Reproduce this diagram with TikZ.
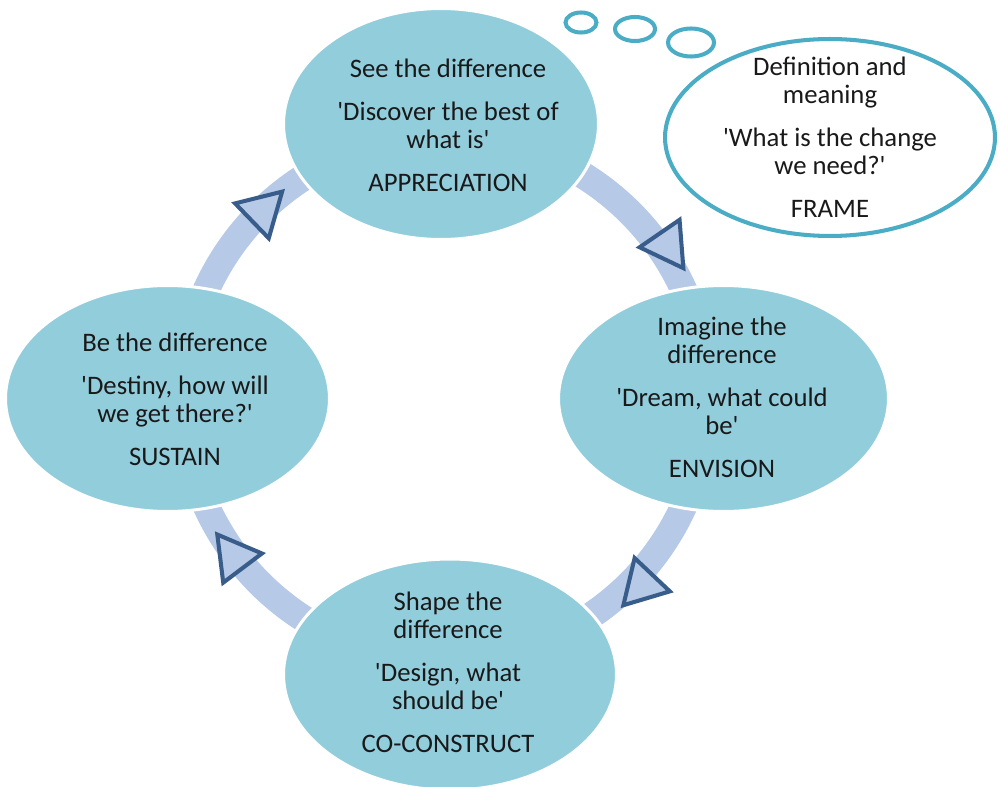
\documentclass[tikz,border=0pt]{standalone}
\usepackage{fontspec}
\setmainfont{Carlito}
\usepackage{tikz}
\usetikzlibrary{shapes.geometric, positioning, calc}
\usepackage{xcolor}
\definecolor{phaseaqua}{RGB}{146,205,220}
\definecolor{bubbleaqua}{RGB}{75,172,198}
\definecolor{cyclelilac}{RGB}{182,201,231}
\definecolor{arrownavy}{RGB}{56,93,138}
\definecolor{inkgrey}{RGB}{25,25,25}
\newcommand{\sq}{\textquotesingle}

\begin{document}
\begin{tikzpicture}[x=0.02cm, y=0.02cm,
  phase/.style={ellipse, fill=phaseaqua, draw=white, line width=1.7pt, inner sep=0pt},
  thought/.style={ellipse, fill=white, draw=bubbleaqua, line width=2.3pt, inner sep=0pt},
  phasetext/.style={align=center, inner sep=0pt, text=inkgrey, font=\fontsize{15.2}{15.9}\selectfont},
  tri/.style={regular polygon, regular polygon sides=3, minimum size=1.12cm, inner sep=0pt,
    fill=cyclelilac, draw=arrownavy, line width=2.3pt}]
\useasboundingbox (0,0) rectangle (1000,-787);

% Cycle band behind the phases
\coordinate (hub) at (445,-398);
\draw[cyclelilac, line width=0.54cm] (hub) circle[radius=262];

% Direction marks (clockwise)
\node[tri, rotate=-46] (tri-a) at ($(hub)+(134.4:261.6)$) {};
\node[tri, rotate=-145.5] (tri-b) at ($(hub)+(34.5:270)$) {};
\node[tri, rotate=136.6] (tri-c) at ($(hub)+(-43.4:272)$) {};
\node[tri, rotate=37] (tri-d) at ($(hub)+(217:264)$) {};

% Phases
\node[phase, minimum width=6.3cm, minimum height=4.62cm] (see) at (441,-124) {};
\node[phase, minimum width=6.6cm, minimum height=4.52cm] (imagine) at (723.5,-398.5) {};
\node[phase, minimum width=6.66cm, minimum height=4.62cm] (shape) at (450,-674.5) {};
\node[phase, minimum width=6.48cm, minimum height=4.52cm] (be) at (167.5,-398.5) {};

\node[phasetext] (see-txt) at (448,-125.5) {See the difference\\[0.3cm]
  \sq Discover the best of\\ what is\sq\\[0.3cm] APPRECIATION};
\node[phasetext] (imagine-txt) at (722,-397) {Imagine the\\ difference\\[0.3cm]
  \sq Dream, what could\\ be\sq\\[0.3cm] ENVISION};
\node[phasetext] (shape-txt) at (448,-672.5) {Shape the\\ difference\\[0.3cm]
  \sq Design, what\\ should be\sq\\[0.3cm] CO-CONSTRUCT};
\node[phasetext] (be-txt) at (175,-399) {Be the difference\\[0.3cm]
  \sq Destiny, how will\\ we get there?\sq\\[0.3cm] SUSTAIN};

% Thought bubble
\node[thought, minimum width=0.62cm, minimum height=0.4cm] (puff-a) at (581,-22.5) {};
\node[thought, minimum width=0.8cm, minimum height=0.48cm] (puff-b) at (635,-29) {};
\node[thought, minimum width=0.92cm, minimum height=0.56cm] (puff-c) at (691,-42.5) {};
\node[thought, minimum width=6.6cm, minimum height=3.94cm] (frame) at (830,-137.5) {};
\node[phasetext] (frame-txt) at (830,-137) {Definition and\\ meaning\\[0.3cm]
  \sq What is the change\\ we need?\sq\\[0.3cm] FRAME};

\end{tikzpicture}
\end{document}
